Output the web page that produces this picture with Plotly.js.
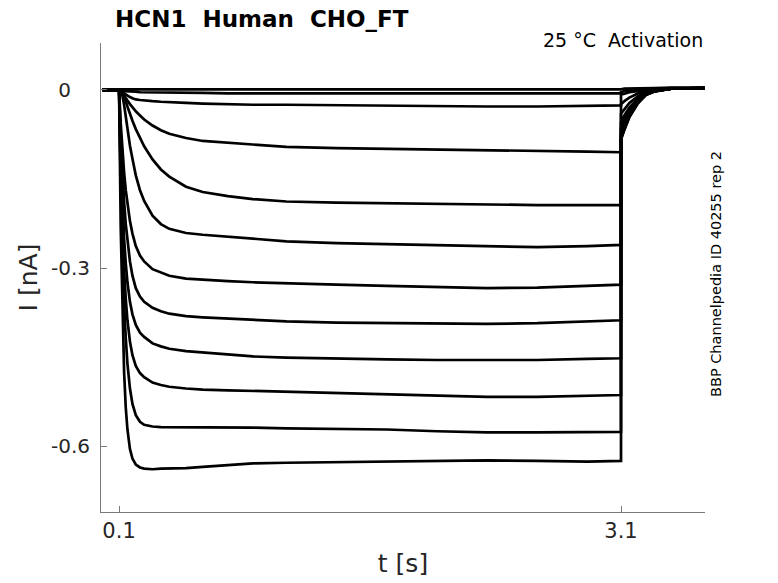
<!DOCTYPE html>
<html>
<head>
<meta charset="utf-8">
<script src="https://cdn.plot.ly/plotly-3.0.1.min.js"></script>
<style>html,body{margin:0;padding:0;background:#fff;}#chart{width:778px;height:583px;}</style>
</head>
<body>
<div id="chart"></div>
<script>
// time points (s)
const t = [0, 0.1, 0.11, 0.12, 0.13, 0.14, 0.15, 0.165, 0.18, 0.2, 0.225, 0.25, 0.3, 0.35, 0.4, 0.5, 0.6, 0.75, 0.9, 1.1, 1.4, 1.7, 2.0, 2.3, 2.6, 2.9, 3.1, 3.1, 3.12, 3.15, 3.2, 3.25, 3.3, 3.4, 3.6];

// current traces (nA), one per voltage step
const sweep01 = [0.001, 0.001, 0.001, 0.001, 0.001, 0.001, 0.001, 0.001, 0.001, 0.001, 0.001, 0.001, 0.001, 0.001, 0.001, 0.000, 0.000, 0.000, 0.000, 0.000, 0.000, 0.000, 0.000, 0.000, 0.001, 0.001, 0.001, 0.001, 0.002, 0.002, 0.003, 0.003, 0.003, 0.004, 0.004];
const sweep02 = [0.000, 0.000, -0.001, -0.001, -0.002, -0.002, -0.002, -0.003, -0.003, -0.003, -0.004, -0.004, -0.004, -0.005, -0.005, -0.005, -0.005, -0.006, -0.006, -0.006, -0.006, -0.006, -0.006, -0.006, -0.006, -0.006, -0.006, -0.004, -0.002, -0.001, 0.000, 0.001, 0.002, 0.003, 0.003];
const sweep03 = [0.000, 0.000, -0.002, -0.004, -0.006, -0.008, -0.010, -0.012, -0.014, -0.016, -0.017, -0.018, -0.019, -0.020, -0.021, -0.022, -0.023, -0.024, -0.025, -0.025, -0.026, -0.026, -0.027, -0.028, -0.028, -0.027, -0.026, -0.008, -0.006, -0.004, -0.002, -0.001, 0.000, 0.002, 0.003];
const sweep04 = [0, 0, -0.001, -0.005, -0.010, -0.014, -0.018, -0.024, -0.030, -0.036, -0.043, -0.050, -0.060, -0.068, -0.074, -0.081, -0.086, -0.089, -0.093, -0.096, -0.098, -0.099, -0.100, -0.101, -0.102, -0.104, -0.105, -0.024, -0.019, -0.013, -0.006, -0.002, 0.000, 0.002, 0.003];
const sweep05 = [0, 0, -0.001, -0.003, -0.010, -0.019, -0.028, -0.041, -0.052, -0.066, -0.082, -0.095, -0.117, -0.134, -0.146, -0.163, -0.172, -0.179, -0.184, -0.188, -0.190, -0.191, -0.192, -0.194, -0.194, -0.194, -0.194, -0.040, -0.032, -0.022, -0.011, -0.004, -0.001, 0.002, 0.003];
const sweep06 = [0, 0, -0.003, -0.010, -0.025, -0.047, -0.068, -0.094, -0.116, -0.144, -0.169, -0.187, -0.212, -0.226, -0.234, -0.241, -0.244, -0.247, -0.251, -0.255, -0.258, -0.260, -0.262, -0.264, -0.265, -0.263, -0.261, -0.054, -0.043, -0.030, -0.015, -0.005, -0.002, 0.002, 0.003];
const sweep07 = [0, 0, -0.057, -0.102, -0.139, -0.169, -0.193, -0.221, -0.242, -0.263, -0.279, -0.289, -0.302, -0.308, -0.313, -0.318, -0.320, -0.322, -0.324, -0.326, -0.328, -0.330, -0.332, -0.334, -0.333, -0.330, -0.328, -0.064, -0.051, -0.035, -0.017, -0.006, -0.002, 0.002, 0.003];
const sweep08 = [0, 0, -0.078, -0.138, -0.188, -0.226, -0.256, -0.289, -0.313, -0.334, -0.348, -0.357, -0.367, -0.373, -0.377, -0.381, -0.383, -0.385, -0.388, -0.390, -0.392, -0.393, -0.394, -0.394, -0.393, -0.390, -0.388, -0.072, -0.058, -0.040, -0.019, -0.007, -0.002, 0.002, 0.003];
const sweep09 = [0, 0, -0.110, -0.192, -0.250, -0.292, -0.324, -0.357, -0.378, -0.396, -0.409, -0.416, -0.427, -0.432, -0.436, -0.440, -0.442, -0.446, -0.449, -0.451, -0.453, -0.454, -0.455, -0.455, -0.455, -0.453, -0.452, -0.077, -0.062, -0.042, -0.021, -0.008, -0.002, 0.002, 0.003];
const sweep10 = [0, 0, -0.137, -0.235, -0.303, -0.352, -0.388, -0.424, -0.447, -0.465, -0.477, -0.484, -0.493, -0.497, -0.500, -0.503, -0.505, -0.506, -0.507, -0.509, -0.511, -0.513, -0.515, -0.517, -0.517, -0.515, -0.514, -0.080, -0.064, -0.044, -0.022, -0.008, -0.002, 0.002, 0.003];
const sweep11 = [0, 0, -0.161, -0.277, -0.359, -0.418, -0.461, -0.503, -0.529, -0.548, -0.559, -0.564, -0.567, -0.568, -0.568, -0.568, -0.568, -0.569, -0.569, -0.570, -0.571, -0.572, -0.575, -0.577, -0.577, -0.576, -0.576, -0.082, -0.066, -0.045, -0.022, -0.008, -0.002, 0.002, 0.003];
const sweep12 = [0, 0, -0.233, -0.381, -0.475, -0.535, -0.572, -0.605, -0.621, -0.631, -0.636, -0.638, -0.639, -0.638, -0.638, -0.637, -0.635, -0.632, -0.629, -0.628, -0.627, -0.626, -0.625, -0.624, -0.625, -0.626, -0.625, -0.084, -0.067, -0.046, -0.023, -0.008, -0.003, 0.002, 0.003];

const sweeps = [sweep01, sweep02, sweep03, sweep04, sweep05, sweep06, sweep07, sweep08, sweep09, sweep10, sweep11, sweep12];

const xTickVals = [0.1, 3.1];
const xTickText = ['0.1', '3.1'];
const yTickVals = [-0.6, -0.3, 0];
const yTickText = ['-0.6', '-0.3', '0\u00A0\u00A0\u00A0'];

const titleText = 'HCN1\u00A0\u00A0Human\u00A0\u00A0CHO_FT';
const subtitleText = '25 °C\u00A0\u00A0Activation';
const sideText = 'BBP Channelpedia ID 40255 rep 2';

const data = sweeps.map(s => ({
  x: t, y: s, type: 'scatter', mode: 'lines',
  line: {color: '#000000', width: 2.7},
  hoverinfo: 'skip', showlegend: false
}));

const FONT = 'DejaVu Sans, Liberation Sans, sans-serif';
const layout = {
  width: 778, height: 583,
  margin: {l: 101, r: 73, t: 43, b: 71, pad: 0},
  paper_bgcolor: '#ffffff', plot_bgcolor: '#ffffff',
  font: {family: FONT, color: '#262626'},
  showlegend: false,
  title: {
    text: '<b>' + titleText + '</b>',
    font: {family: FONT, size: 23, color: '#000000'},
    x: 115 / 778, xref: 'container', xanchor: 'left',
    y: 1 - 19 / 583, yref: 'container', yanchor: 'middle'
  },
  xaxis: {
    range: [-0.008, 3.602],
    tickvals: xTickVals, ticktext: xTickText,
    ticks: 'inside', ticklen: 6, tickwidth: 1, tickcolor: '#7a7a7a',
    showline: true, linecolor: '#7a7a7a', linewidth: 1,
    showgrid: false, zeroline: false, mirror: false,
    tickfont: {family: FONT, size: 21, color: '#262626'},
    title: {text: 't [s]', font: {family: FONT, size: 25, color: '#262626'}, standoff: 12}
  },
  yaxis: {
    range: [-0.711, 0.079],
    tickvals: yTickVals, ticktext: yTickText,
    ticks: 'inside', ticklen: 6, tickwidth: 1, tickcolor: '#7a7a7a',
    ticklabelstandoff: 6,
    showline: true, linecolor: '#7a7a7a', linewidth: 1,
    showgrid: false, zeroline: false, mirror: false,
    tickfont: {family: FONT, size: 20, color: '#262626'},
    title: {text: 'I [nA]', font: {family: FONT, size: 25, color: '#262626'}, standoff: 6}
  },
  annotations: [
    {text: subtitleText, xref: 'paper', yref: 'paper', x: 1, y: 1 + 3 / 469,
     xanchor: 'right', yanchor: 'middle', showarrow: false,
     font: {family: FONT, size: 19, color: '#000000'}},
    {text: sideText, xref: 'paper', yref: 'paper', x: (716 - 101) / 604, y: (512 - 274) / 469,
     xanchor: 'center', yanchor: 'middle', textangle: -90, showarrow: false,
     font: {family: FONT, size: 14.5, color: '#000000'}}
  ]
};

Plotly.newPlot('chart', data, layout, {staticPlot: true, displayModeBar: false});
</script>
</body>
</html>
